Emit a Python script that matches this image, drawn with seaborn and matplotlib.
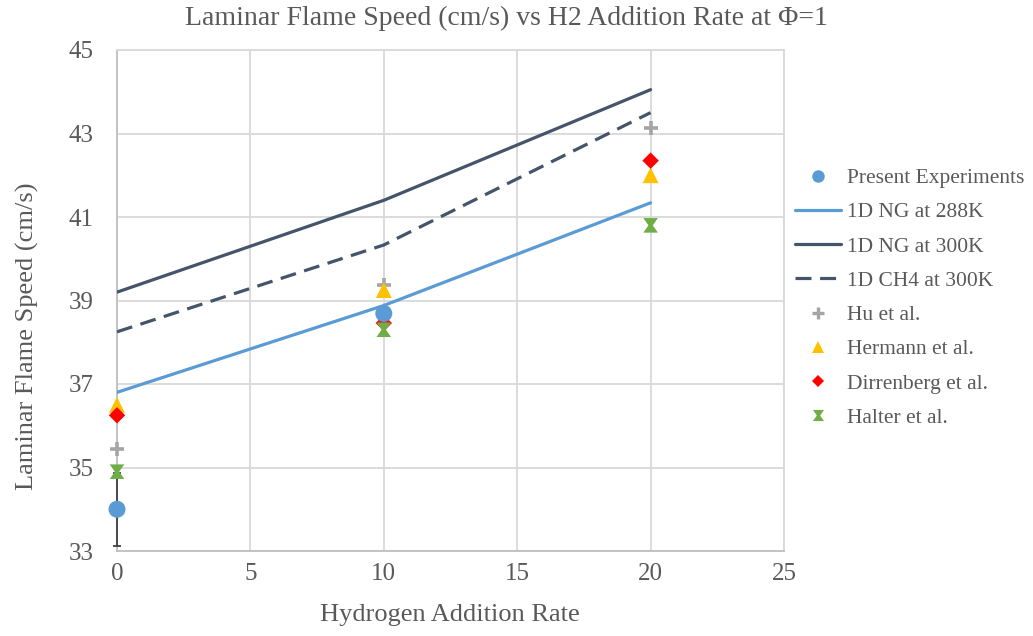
import numpy as np
import pandas as pd
import matplotlib
matplotlib.use("Agg")
import matplotlib.pyplot as plt
from matplotlib.lines import Line2D
from matplotlib.path import Path
import seaborn as sns

# Hydrogen addition rate (%)
h2_rate = [0, 10, 20]

# 1D simulations (cm/s)
ng_288k = [36.8, 38.88, 41.34]
ng_300k = [39.2, 41.4, 44.05]
ch4_300k = [38.25, 40.33, 43.5]

# Measurements (cm/s)
present_x = [0, 10]
present_y = [34.0, 38.69]
present_err = [0.87, 0.0]
hu_y = [35.45, 39.36, 43.12]
hermann_y = [36.5, 39.25, 42.0]
dirrenberg_y = [36.25, 38.46, 42.35]
halter_y = [34.9, 38.3, 40.8]

x_ticks = [0, 5, 10, 15, 20, 25]
y_ticks = [33, 35, 37, 39, 41, 43, 45]

title = "Laminar Flame Speed (cm/s) vs H2 Addition Rate at Φ=1"
x_label = "Hydrogen Addition Rate"
y_label = "Laminar Flame Speed (cm/s)"

sns.set_style("white")
plt.rcParams["font.family"] = ["Liberation Serif", "DejaVu Serif"]

TEXT = "#595959"
GRID = "#d9d9d9"
C_288 = "#5b9bd5"
C_300 = "#44546a"
C_HU = "#a5a5a5"
C_HER = "#ffc000"
C_DIR = "#ff0000"
C_HAL = "#70ad47"

# hourglass-shaped marker
hourglass = Path([(-1, 1), (1, 1), (0.3, 0), (1, -1), (-1, -1), (-0.3, 0), (-1, 1)],
                 [Path.MOVETO] + [Path.LINETO] * 5 + [Path.CLOSEPOLY])

W, H = 1033, 636
fig = plt.figure(figsize=(W / 100, H / 100), dpi=100)
ax = fig.add_axes([117 / W, 1 - 551 / H, (784 - 117) / W, (551 - 50) / H])

sim = pd.DataFrame({"x": h2_rate, "ng288": ng_288k, "ng300": ng_300k, "ch4": ch4_300k})
lw = 2.3
sns.lineplot(data=sim, x="x", y="ng288", ax=ax, color=C_288, linewidth=lw, zorder=3)
sns.lineplot(data=sim, x="x", y="ng300", ax=ax, color=C_300, linewidth=lw, zorder=3)
sns.lineplot(data=sim, x="x", y="ch4", ax=ax, color=C_300, linewidth=lw,
             linestyle=(0, (5, 2.7)), zorder=3)

# error bar of the present measurement
ax.errorbar(present_x[:1], present_y[:1], yerr=present_err[:1], fmt="none",
            ecolor="#404040", elinewidth=1.3, capsize=3, capthick=1.3,
            zorder=4, clip_on=False)

meas = pd.DataFrame({"x": h2_rate, "hu": hu_y, "her": hermann_y,
                     "dir": dirrenberg_y, "hal": halter_y})
pres = pd.DataFrame({"x": present_x, "y": present_y})

sns.scatterplot(data=meas, x="x", y="hu", ax=ax, marker="+", s=110, color=C_HU,
                linewidth=2.6, zorder=5, clip_on=False)
sns.scatterplot(data=meas, x="x", y="her", ax=ax, marker="^", s=130, color=C_HER,
                edgecolor="none", zorder=6, clip_on=False)
sns.scatterplot(data=meas, x="x", y="dir", ax=ax, marker="D", s=70, color=C_DIR,
                edgecolor="none", zorder=7, clip_on=False)
sns.scatterplot(data=meas, x="x", y="hal", ax=ax, marker=hourglass, s=110, color=C_HAL,
                edgecolor="none", zorder=7, clip_on=False)
sns.scatterplot(data=pres, x="x", y="y", ax=ax, marker="o", s=150, color=C_288,
                edgecolor="none", zorder=8, clip_on=False)

ax.set_xlim(0, 25)
ax.set_ylim(33, 45)
ax.set_xticks(x_ticks)
ax.set_yticks(y_ticks)
ax.set_xticklabels([str(v) for v in x_ticks])
ax.set_yticklabels([str(v) for v in y_ticks])
ax.grid(True, color=GRID, linewidth=1.3)
ax.set_axisbelow(True)
for s in ax.spines.values():
    s.set_color(GRID)
    s.set_linewidth(1.3)
ax.spines["left"].set_color("#bfbfbf")
ax.spines["bottom"].set_color("#bfbfbf")
ax.tick_params(axis="both", length=0, labelsize=18, labelcolor=TEXT)
ax.tick_params(axis="y", pad=17)
ax.tick_params(axis="x", pad=9)
ax.set_xlabel("")
ax.set_ylabel("")

fig.text(506 / W, 1 - 18 / H, title, ha="center", va="center", fontsize=20, color=TEXT)
fig.text(450 / W, 1 - 615 / H, x_label, ha="center", va="center", fontsize=19, color=TEXT)
fig.text(27 / W, 1 - 336 / H, y_label, ha="center", va="center", rotation=90,
         fontsize=19, color=TEXT)

handles = [
    Line2D([], [], linestyle="none", marker="o", markersize=9, color=C_288, markeredgewidth=0),
    Line2D([], [], color=C_288, linewidth=lw),
    Line2D([], [], color=C_300, linewidth=lw),
    Line2D([], [], color=C_300, linewidth=lw, linestyle=(0, (5, 2.7))),
    Line2D([], [], linestyle="none", marker="+", markersize=8, color=C_HU, markeredgewidth=2.4),
    Line2D([], [], linestyle="none", marker="^", markersize=9, color=C_HER, markeredgewidth=0),
    Line2D([], [], linestyle="none", marker="D", markersize=6.5, color=C_DIR, markeredgewidth=0),
    Line2D([], [], linestyle="none", marker=hourglass, markersize=8, color=C_HAL, markeredgewidth=0),
]
labels = ["Present Experiments", "1D NG at 288K", "1D NG at 300K", "1D CH4 at 300K",
          "Hu et al.", "Hermann et al.", "Dirrenberg et al.", "Halter et al."]
leg = fig.legend(handles, labels, loc="upper left", bbox_to_anchor=(795 / W, 1 - 168 / H),
                 frameon=False, fontsize=15.5, handlelength=2.15, handletextpad=0.25,
                 labelspacing=0.66, borderpad=0, borderaxespad=0)
for t in leg.get_texts():
    t.set_color(TEXT)

fig.savefig("out.png", dpi=100)
